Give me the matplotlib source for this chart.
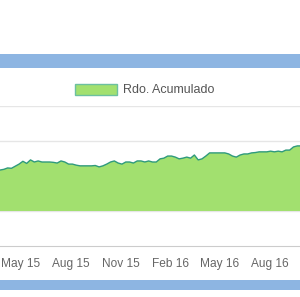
# Grafico de area: Rdo. Acumulado
import numpy as np
import pandas as pd
import matplotlib
matplotlib.use("Agg")
import matplotlib.pyplot as plt
import matplotlib.dates as mdates
from matplotlib.patches import Patch, Rectangle

# Datos (semanales)
fechas = pd.date_range("2015-03-24", periods=80, freq="7D")
rdo_acumulado = [
    11.7, 11.9, 12.3, 12.2, 12.8, 13.4, 14.2, 13.6, 14.6, 14.0,
    14.3, 14.0, 14.0, 14.0, 13.9, 13.7, 14.3, 14.0, 13.4, 13.4,
    13.1, 12.9, 12.9, 12.9, 12.9, 13.0, 12.6, 12.9, 13.4, 14.0,
    14.3, 13.7, 13.4, 14.0, 14.0, 13.7, 14.3, 14.3, 14.0, 14.3,
    14.0, 14.0, 14.9, 15.1, 15.7, 15.7, 15.4, 14.9, 15.1, 15.4,
    15.1, 16.0, 14.6, 14.9, 15.7, 16.6, 16.6, 16.6, 16.6, 16.6,
    16.3, 15.7, 15.4, 16.0, 16.3, 16.3, 16.6, 16.7, 16.9, 16.9,
    16.9, 17.1, 16.9, 17.1, 16.9, 17.4, 17.4, 18.3, 18.6, 18.6,
]
ticks = ["2015-05-01", "2015-08-01", "2015-11-01", "2016-02-01", "2016-05-01", "2016-08-01"]

plt.rcParams["font.family"] = ["Liberation Sans", "DejaVu Sans"]

fig = plt.figure(figsize=(3.0, 2.97), dpi=100)
ax = fig.add_axes([0, 51 / 297, 1, 140 / 297])

ax.fill_between(fechas, 0, rdo_acumulado, color="#a2e06f", linewidth=0, zorder=2)
ax.plot(fechas, rdo_acumulado, color="#2f9a7d", linewidth=1.0, zorder=3)

ax.set_xlim(pd.Timestamp("2015-03-24"), pd.Timestamp("2016-09-25"))
ax.set_ylim(-10, 30)
ax.set_yticks([0, 10, 20, 30])
ax.set_xticks(pd.to_datetime(ticks))
ax.xaxis.set_major_formatter(mdates.DateFormatter("%b %y"))
ax.tick_params(axis="x", length=0, pad=8.5, labelsize=8.6, colors="#666666")
ax.tick_params(axis="y", length=0, labelleft=False)
ax.grid(axis="y", color="#e6e6e6", linewidth=1, zorder=0)
for lado in ["top", "left", "right"]:
    ax.spines[lado].set_visible(False)
ax.spines["bottom"].set_color("#cccccc")
ax.set_axisbelow(True)

# Leyenda
fig.legend(handles=[Patch(facecolor="#a2e06f", edgecolor="#6cc0a0", label="Rdo. Acumulado")],
           loc="center", bbox_to_anchor=(0.483, 1 - 90 / 297), frameon=False,
           fontsize=9, labelcolor="#555555", handlelength=3.3, handleheight=1.0,
           handletextpad=0.5)

# Bandas azules
fig.add_artist(Rectangle((0, 1 - 68 / 297), 1, 14 / 297, transform=fig.transFigure,
                         color="#8db5e2", linewidth=0))
fig.add_artist(Rectangle((0, 1 - 290 / 297), 1, 10 / 297, transform=fig.transFigure,
                         color="#8db5e2", linewidth=0))

fig.savefig("out.png", dpi=100)
